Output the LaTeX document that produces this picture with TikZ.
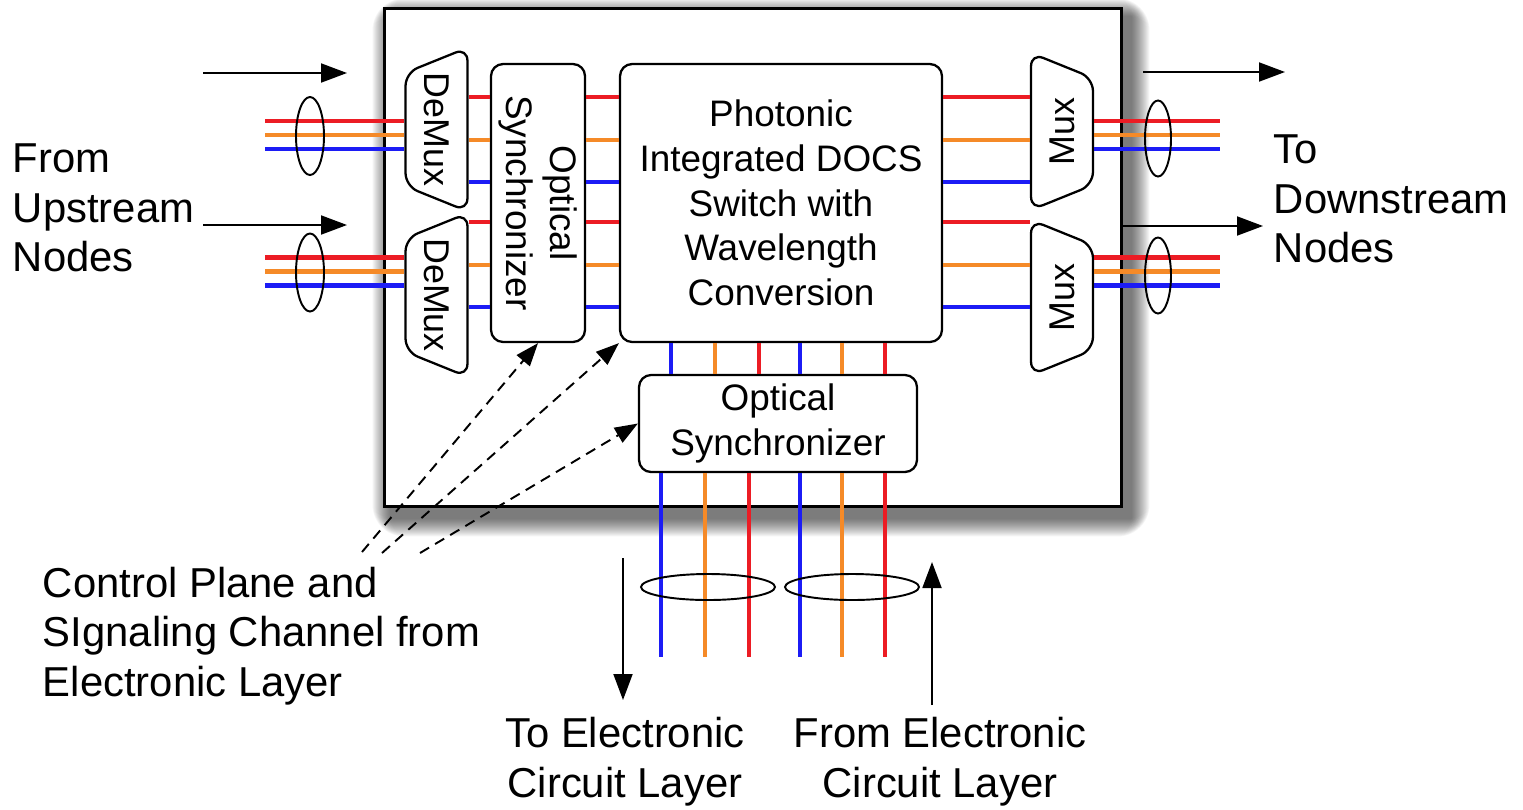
\documentclass[tikz,border=0pt]{standalone}
\usepackage{fontspec}
\setmainfont{Liberation Sans}
\usetikzlibrary{arrows.meta,shapes.geometric,calc,backgrounds}

\definecolor{wred}{RGB}{236,28,36}
\definecolor{worange}{RGB}{245,138,40}
\definecolor{wblue}{RGB}{28,28,245}

\tikzset{
  wire/.style={line width=2.6pt},
  rd/.style={wire,draw=wred},
  og/.style={wire,draw=worange},
  bl/.style={wire,draw=wblue},
  block/.style={draw,line width=1.3pt,rounded corners=0.24cm,fill=white,align=center,inner sep=0pt,font=\fontsize{21}{25.5}\selectfont},
  muxbox/.style={draw,line width=1.3pt,rounded corners=0.26cm,fill=white,trapezium,trapezium left angle=112,trapezium right angle=112,trapezium stretches body=true,inner xsep=0pt,inner ysep=10.5pt,font=\fontsize{20.4}{24}\selectfont},
  bundle/.style={line width=1.1pt},
  ctrl/.style={line width=1.1pt,dash pattern=on 6pt off 4pt,-{Triangle[length=0.46cm,width=0.34cm]}},
  lbl/.style={align=left,inner sep=0pt,font=\fontsize{23.8}{28.3}\selectfont},
}

\begin{document}
\begin{tikzpicture}[x=0.02cm,y=-0.02cm,>={Triangle[length=0.52cm,width=0.38cm]},line width=1.1pt]
\useasboundingbox (0,0) rectangle (1523,809);

% switch node frame with a soft shadow
\node[draw,line width=1.7pt,fill=white,minimum width=14.76cm,minimum height=9.98cm] (box) at (753,257.5) {};
\begin{scope}[on background layer]
\foreach \r in {1,...,18}
  \fill[black,opacity=0.04,rounded corners=\r pt] ([shift={(8-\r,10-\r)}]box.north west) rectangle ([shift={(8+\r,10+\r)}]box.south east);
\end{scope}

% demultiplexers and multiplexers
\node[muxbox,rotate=-90,minimum width=3.1cm] (dmA) at (436.5,129.5) {DeMux};
\node[muxbox,rotate=-90,minimum width=3.12cm] (dmB) at (436.5,295) {DeMux};
\node[muxbox,rotate=90,minimum width=3.14cm] (muxA) at (1062,131.5) {Mux};
\node[muxbox,rotate=90,minimum width=3.1cm] (muxB) at (1062,297.5) {Mux};

% synchronizers and switch fabric
\node[block,rotate=-90,minimum width=5.56cm,minimum height=1.88cm] (syncL) at (538,203) {Optical\\Synchronizer};
\node[block,minimum width=6.44cm,minimum height=5.56cm] (sw) at (781,203) {Photonic\\Integrated DOCS\\Switch with\\Wavelength\\Conversion};
\node[block,minimum width=5.56cm,minimum height=1.94cm] (syncB) at (778,423.5) {Optical\\Synchronizer};

% wavelength channels through the node
\foreach \y/\c/\d/\m in {97/rd/dmA/muxA,140/og/dmA/muxA,182/bl/dmA/muxA,222/rd/dmB/muxB,265/og/dmB/muxB,307/bl/dmB/muxB}{
  \draw[\c] (\d.north |- 0,\y) -- (syncL.south |- 0,\y);
  \draw[\c] (syncL.north |- 0,\y) -- (sw.west |- 0,\y);
  \draw[\c] (sw.east |- 0,\y) -- (\m.north |- 0,\y);
}

% fibre bundles in and out
\coordinate (inA) at (265,135);
\coordinate (inB) at (265,271.5);
\coordinate (outA) at (1220,135);
\coordinate (outB) at (1220,271.5);
\foreach \o/\c in {-14/rd,0/og,14/bl}{
  \draw[\c] ($(inA)+(0,\o)$) -- ($(inA -| dmA.south)+(0,\o)$);
  \draw[\c] ($(inB)+(0,\o)$) -- ($(inB -| dmB.south)+(0,\o)$);
  \draw[\c] ($(outA -| muxA.south)+(0,\o)$) -- ($(outA)+(0,\o)$);
  \draw[\c] ($(outB -| muxB.south)+(0,\o)$) -- ($(outB)+(0,\o)$);
}
\draw[bundle] ($(inA)+(45,1)$) ellipse [x radius=14,y radius=39];
\draw[bundle] ($(inB)+(45,1)$) ellipse [x radius=14,y radius=39];
\draw[bundle] ($(outA)+(-62,3.5)$) ellipse [x radius=13,y radius=38];
\draw[bundle] ($(outB)+(-62,4)$) ellipse [x radius=13,y radius=38];

% add/drop towards the electronic layer
\foreach \x/\c in {671/bl,715/og,759/rd,800/bl,842/og,885/rd}
  \draw[\c] (sw.south -| \x,0) -- (syncB.north -| \x,0);
\coordinate (dnA) at (705,657);
\coordinate (dnB) at (842,657);
\foreach \x/\c in {661/bl,705/og,749/rd}
  \draw[\c] (syncB.south -| \x,0) -- (dnA -| \x,0);
\foreach \x/\c in {800/bl,842/og,885/rd}
  \draw[\c] (syncB.south -| \x,0) -- (dnB -| \x,0);
\draw[bundle] ($(dnA)+(3,-70)$) ellipse [x radius=67,y radius=13];
\draw[bundle] ($(dnB)+(10,-70)$) ellipse [x radius=67,y radius=13];

% traffic direction arrows
\coordinate (upA0) at (203,73);
\coordinate (upA1) at (347,73);
\coordinate (upB0) at (203,225);
\coordinate (upB1) at (347,225);
\coordinate (dsA0) at (1143,72);
\coordinate (dsA1) at (1285,72);
\coordinate (dsB0) at (1120,226);
\coordinate (dsB1) at (1263,226);
\coordinate (toE0) at (623,558);
\coordinate (toE1) at (623,700);
\coordinate (frE0) at (932,705);
\coordinate (frE1) at (932,562);
\draw[->] (upA0) -- (upA1);
\draw[->] (upB0) -- (upB1);
\draw[->] (dsA0) -- (dsA1);
\draw[->] (dsB0) -- (dsB1);
\draw[->] (toE0) -- (toE1);
\draw[->] (frE0) -- (frE1);

% control plane signalling
\coordinate (ctA) at (362,552);
\coordinate (ctB) at (382,553);
\coordinate (ctC) at (420,553);
\draw[ctrl] (ctA) -- (syncL.east);
\draw[ctrl] (ctB) -- (sw.south west);
\draw[ctrl] (ctC) -- (syncB.west);

% labels
\node[lbl,anchor=west] (upLbl) at (12,208) {From\\Upstream\\Nodes};
\node[lbl,anchor=west] (dnLbl) at (1273,199) {To\\Downstream\\Nodes};
\node[lbl,anchor=west] (ctLbl) at (42,636) {Control Plane and\\SIgnaling Channel from\\Electronic Layer};
\node[lbl,align=center] (toLbl) at (625,762) {To Electronic\\Circuit Layer};
\node[lbl,align=center] (frLbl) at (940,762) {From Electronic\\Circuit Layer};
\end{tikzpicture}
\end{document}
